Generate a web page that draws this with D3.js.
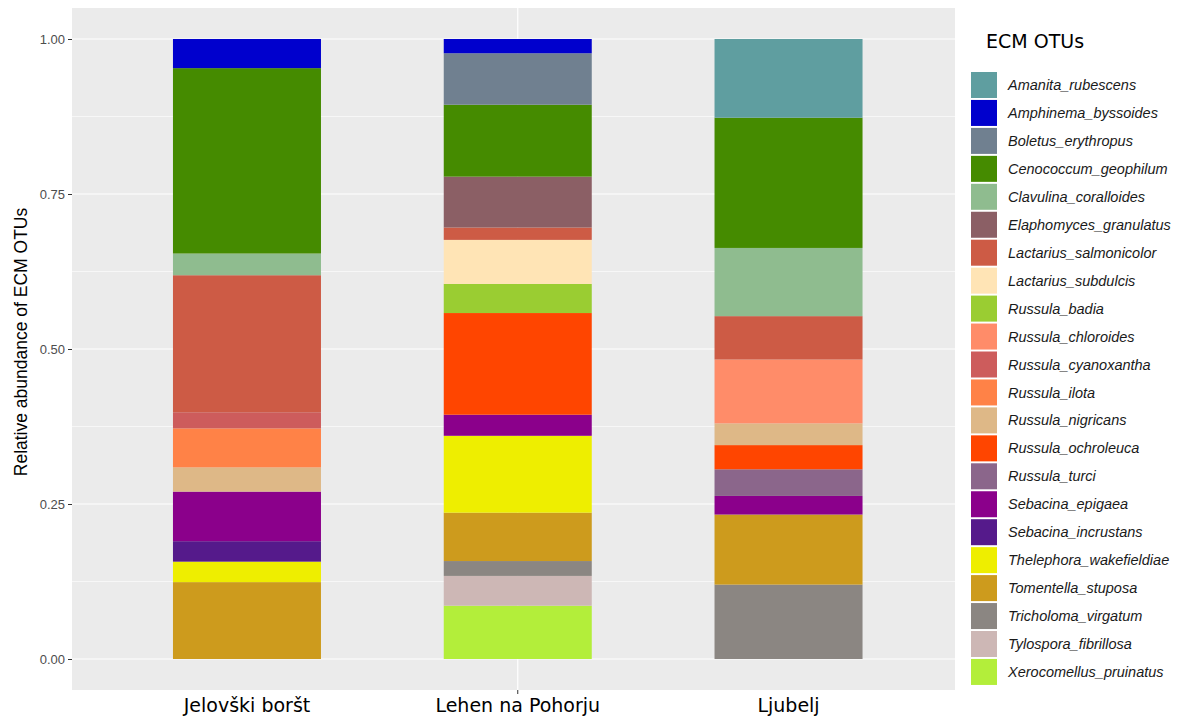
<!DOCTYPE html>
<html>
<head>
<meta charset="utf-8">
<script src="https://cdn.jsdelivr.net/npm/d3@7"></script>
<style>
  html, body { margin: 0; padding: 0; background: #ffffff; }
  svg { display: block; }
</style>
</head>
<body>
<svg id="chart" width="1177" height="717"></svg>
<script>
// Sampling sites along the x axis
const sites = ["Jelovški boršt", "Lehen na Pohorju", "Ljubelj"];

// ECM OTUs, in legend order (first one is stacked on top)
const otus = [
  "Amanita_rubescens", "Amphinema_byssoides", "Boletus_erythropus",
  "Cenococcum_geophilum", "Clavulina_coralloides", "Elaphomyces_granulatus",
  "Lactarius_salmonicolor", "Lactarius_subdulcis", "Russula_badia",
  "Russula_chloroides", "Russula_cyanoxantha", "Russula_ilota",
  "Russula_nigricans", "Russula_ochroleuca", "Russula_turci",
  "Sebacina_epigaea", "Sebacina_incrustans", "Thelephora_wakefieldiae",
  "Tomentella_stuposa", "Tricholoma_virgatum", "Tylospora_fibrillosa",
  "Xerocomellus_pruinatus"
];

const otuColors = [
  "#5F9EA0", "#0000CD", "#708090",
  "#458B00", "#8FBC8F", "#8B5F65",
  "#CD5B45", "#FFE4B5", "#9ACD32",
  "#FF8C69", "#CD5C5C", "#FF8247",
  "#DEB887", "#FF4500", "#8B668B",
  "#8B008B", "#551A8B", "#EEEE00",
  "#CD9B1D", "#8B8682", "#CDB7B5",
  "#B3EE3A"
];

// Relative abundance per site, aligned with `otus`
const jelovskiBorst = [0, 0.047, 0, 0.299, 0.035, 0, 0.221, 0, 0, 0, 0.026, 0.063,
                       0.039, 0, 0, 0.080, 0.033, 0.033, 0.124, 0, 0, 0];
const lehenNaPohorju = [0, 0.023, 0.083, 0.116, 0, 0.082, 0.020, 0.071, 0.047, 0, 0, 0,
                        0, 0.164, 0, 0.034, 0, 0.124, 0.078, 0.024, 0.048, 0.086];
const ljubelj = [0.127, 0, 0, 0.210, 0.110, 0, 0.070, 0, 0, 0.103, 0, 0,
                 0.035, 0.039, 0.043, 0.030, 0, 0, 0.113, 0.120, 0, 0];

const yTicks = [0, 0.25, 0.5, 0.75, 1];
const yMinorTicks = [0.125, 0.375, 0.625, 0.875];

const yTitle = "Relative abundance of ECM OTUs";
const legendTitle = "ECM OTUs";

// ---- layout ----
const panel = { left: 72, right: 955, top: 8, bottom: 690 };

const svg = d3.select("#chart");

const siteValues = [jelovskiBorst, lehenNaPohorju, ljubelj];
const rows = sites.map((s, i) => {
  const row = { site: s };
  otus.forEach((o, j) => { row[o] = siteValues[i][j]; });
  return row;
});

const x = d3.scaleBand()
  .domain(sites)
  .range([84.5, 951])
  .paddingInner(0.4534)
  .paddingOuter(0.3267);

const y = d3.scaleLinear()
  .domain([-0.05, 1.05])
  .range([panel.bottom, panel.top]);

const color = d3.scaleOrdinal().domain(otus).range(otuColors);

// Panel background
svg.append("rect")
  .attr("x", panel.left).attr("y", panel.top)
  .attr("width", panel.right - panel.left)
  .attr("height", panel.bottom - panel.top)
  .attr("fill", "#EBEBEB");

const grid = svg.append("g");
grid.selectAll("line.minor").data(yMinorTicks).join("line")
  .attr("class", "minor")
  .attr("x1", panel.left).attr("x2", panel.right)
  .attr("y1", d => y(d)).attr("y2", d => y(d))
  .attr("stroke", "#ffffff").attr("stroke-width", 0.6);
grid.selectAll("line.major").data(yTicks).join("line")
  .attr("class", "major")
  .attr("x1", panel.left).attr("x2", panel.right)
  .attr("y1", d => y(d)).attr("y2", d => y(d))
  .attr("stroke", "#ffffff").attr("stroke-width", 1.2);
grid.selectAll("line.vert").data([sites[1]]).join("line")
  .attr("class", "vert")
  .attr("x1", d => x(d) + x.bandwidth() / 2).attr("x2", d => x(d) + x.bandwidth() / 2)
  .attr("y1", panel.top).attr("y2", panel.bottom)
  .attr("stroke", "#ffffff").attr("stroke-width", 1.2);

// Stacked, normalised bars: last OTU at the bottom, first OTU on top
const stack = d3.stack()
  .keys(otus.slice().reverse())
  .offset(d3.stackOffsetExpand);
const layers = stack(rows);

svg.append("g").selectAll("g").data(layers).join("g")
  .attr("fill", d => color(d.key))
  .selectAll("rect").data(d => d.filter(p => p[1] - p[0] > 0)).join("rect")
  .attr("x", d => x(d.data.site))
  .attr("width", x.bandwidth())
  .attr("y", d => y(d[1]))
  .attr("height", d => y(d[0]) - y(d[1]));

// Y axis
const yAxis = d3.axisLeft(y).tickValues(yTicks).tickFormat(d3.format(".2f")).tickSize(4).tickPadding(3);
const yg = svg.append("g").attr("transform", `translate(${panel.left},0)`).call(yAxis);
yg.select(".domain").remove();
yg.selectAll(".tick line").attr("stroke", "#333333").attr("stroke-width", 1);
yg.selectAll(".tick text")
  .attr("fill", "#4D4D4D")
  .style("font-family", "'Liberation Sans', Arial, sans-serif")
  .style("font-size", "13px");

// X axis labels
const xAxis = d3.axisBottom(x).tickSize(4).tickPadding(0);
const xg = svg.append("g").attr("transform", `translate(0,${panel.bottom})`).call(xAxis);
xg.select(".domain").remove();
xg.selectAll(".tick line")
  .attr("stroke", "#333333")
  .attr("opacity", d => d === sites[1] ? 1 : 0);
xg.selectAll(".tick text")
  .attr("y", 22)
  .attr("dy", 0)
  .attr("fill", "#000000")
  .style("font-family", "'DejaVu Sans', sans-serif")
  .style("font-size", "19px");

// Y title
svg.append("text")
  .attr("transform", "translate(27,342) rotate(-90)")
  .attr("text-anchor", "middle")
  .style("font-family", "'Liberation Sans', Arial, sans-serif")
  .style("font-size", "17.5px")
  .attr("fill", "#000000")
  .text(yTitle);

// Legend
const legend = svg.append("g").attr("transform", "translate(971,0)");
legend.append("text")
  .attr("x", 15).attr("y", 48)
  .style("font-family", "'DejaVu Sans', sans-serif")
  .style("font-size", "19px")
  .attr("fill", "#000000")
  .text(legendTitle);

const keyTop = 72, keyPitch = 27.95, keySize = 26;
const items = legend.selectAll("g.item").data(otus).join("g")
  .attr("class", "item")
  .attr("transform", (d, i) => `translate(0,${keyTop + i * keyPitch})`);
items.append("rect")
  .attr("width", keySize).attr("height", keySize)
  .attr("fill", d => color(d));
items.append("text")
  .attr("x", 37).attr("y", keySize / 2)
  .attr("dy", "0.35em")
  .style("font-family", "'Liberation Sans', Arial, sans-serif")
  .style("font-style", "italic")
  .style("font-size", "14.5px")
  .attr("fill", "#1a1a1a")
  .text(d => d);
</script>
</body>
</html>
